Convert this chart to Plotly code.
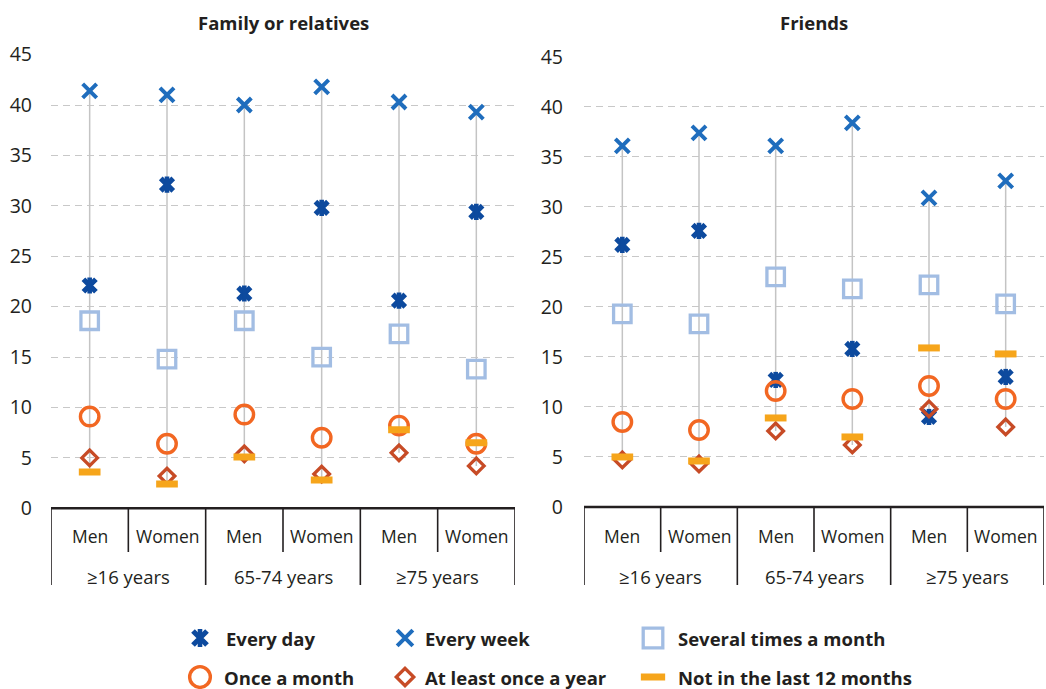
import plotly.graph_objects as go

# ---- data -------------------------------------------------------------
sexes = ["Men", "Women", "Men", "Women", "Men", "Women"]
age_groups = ["≥16 years", "65-74 years", "≥75 years"]
series_names = ["Every day", "Every week", "Several times a month",
                "Once a month", "At least once a year", "Not in the last 12 months"]

family_every_day = [22.1, 32.1, 21.3, 29.8, 20.6, 29.4]
family_every_week = [41.4, 41.0, 40.0, 41.8, 40.3, 39.3]
family_several = [18.6, 14.8, 18.6, 15.0, 17.3, 13.8]
family_once_month = [9.1, 6.4, 9.3, 7.0, 8.2, 6.4]
family_once_year = [5.0, 3.2, 5.4, 3.4, 5.5, 4.2]
family_not_12m = [3.6, 2.4, 5.1, 2.8, 7.8, 6.5]

friends_every_day = [26.2, 27.6, 12.7, 15.8, 9.0, 13.0]
friends_every_week = [36.1, 37.4, 36.1, 38.4, 30.9, 32.6]
friends_several = [19.3, 18.3, 23.0, 21.8, 22.2, 20.3]
friends_once_month = [8.5, 7.7, 11.6, 10.8, 12.1, 10.8]
friends_once_year = [4.7, 4.3, 7.6, 6.2, 9.8, 8.0]
friends_not_12m = [5.0, 4.6, 8.9, 7.0, 15.9, 15.3]

y_ticks = [0, 5, 10, 15, 20, 25, 30, 35, 40, 45]

# ---- styling -----------------------------------------------------------
W, H = 1046, 689
FONT = "Open Sans"
TXT = "#231f20"
C_DAY = "#0d4a9e"
C_WEEK = "#1f6dbd"
C_SEV = "#a2bde3"
C_MONTH = "#f26722"
C_YEAR = "#c74b26"
C_NOT = "#f6a51b"


def py(px):
    """pixel row -> paper y"""
    return 1 - px / H


def px_x(px):
    return px / W


panels = [
    dict(title="Family or relatives",
         data=[family_every_day, family_every_week, family_several,
               family_once_month, family_once_year, family_not_12m],
         xdom=(51, 515), ydom=(508.3, 54.6), xa="x", ya="y"),
    dict(title="Friends",
         data=[friends_every_day, friends_every_week, friends_several,
               friends_once_month, friends_once_year, friends_not_12m],
         xdom=(584, 1044), ydom=(507, 56.8), xa="x2", ya="y2"),
]

fig = go.Figure()
xs = list(range(len(sexes)))


def mk(symbol, size, color, width):
    return dict(symbol=symbol, size=size, color=color,
                line=dict(color=color, width=width))


def marker_traces(x, y, xa, ya, scale=1.0):
    s = scale
    specs = [
        (0, mk("x-thin-open", 12.5 * s, C_DAY, 5.2)),
        (0, mk("line-ns-open", 11.5 * s, C_DAY, 4.6)),
        (1, mk("x-thin-open", 14 * s, C_WEEK, 4.0)),
        (2, mk("square-open", 17.5 * s, C_SEV, 3.3)),
        (3, mk("circle-open", 18.5 * s, C_MONTH, 3.4)),
        (4, mk("diamond-open", 12 * s, C_YEAR, 3.3)),
        (5, mk("line-ew-open", 15.5 * s, C_NOT, 7)),
    ]
    return [(k, go.Scatter(x=x, y=y[k], xaxis=xa, yaxis=ya, mode="markers",
                           marker=m, showlegend=False, hoverinfo="skip"))
            for k, m in specs]


def label(text, x, y, xref, yref, size, xanchor="center"):
    fig.add_annotation(text=text, x=x, y=y, xref=xref, yref=yref,
                       xanchor=xanchor, yanchor="middle", showarrow=False,
                       font=dict(family=FONT, size=size, color=TXT))


for i, p in enumerate(panels):
    # high-low connector from the lowest to the highest value per column
    lx, ly = [], []
    for k in xs:
        vals = [s[k] for s in p["data"]]
        lx += [k, k, None]
        ly += [min(vals), max(vals), None]
    fig.add_trace(go.Scatter(x=lx, y=ly, xaxis=p["xa"], yaxis=p["ya"],
                             mode="lines", line=dict(color="#c4c4c4", width=1.5),
                             showlegend=False, hoverinfo="skip"))
    for _, t in marker_traces(xs, p["data"], p["xa"], p["ya"]):
        fig.add_trace(t)

    sfx = "" if i == 0 else "2"
    fig.layout["xaxis" + sfx] = dict(
        domain=[px_x(p["xdom"][0]), px_x(p["xdom"][1])],
        range=[-0.5, len(sexes) - 0.5], showgrid=False, zeroline=False,
        showticklabels=False, ticks="", showline=False, fixedrange=True,
        automargin=False, anchor="y" + sfx)
    fig.layout["yaxis" + sfx] = dict(
        domain=[py(p["ydom"][0]), py(p["ydom"][1])], range=[0, 45],
        tickvals=y_ticks, showgrid=True, gridcolor="#c8c8c8", griddash="7px,5px",
        gridwidth=1.2, zeroline=False, showline=False, ticks="",
        ticklabelstandoff=18 if i == 0 else 20, automargin=False,
        tickfont=dict(family=FONT, size=19.5, color=TXT), fixedrange=True,
        anchor="x" + sfx)

    # panel title
    xmid = (p["xdom"][0] + p["xdom"][1]) / 2
    label("<b>%s</b>" % p["title"], px_x(xmid), py(22), "paper", "paper", 18.5)

    # category axis: baseline, dividers and two label rows
    xr = "x" + sfx
    fig.add_shape(type="line", xref=xr, yref="paper", x0=-0.5, x1=len(sexes) - 0.5,
                  y0=py(p["ydom"][0]), y1=py(p["ydom"][0]),
                  line=dict(color=TXT, width=2.6))
    for b in range(len(sexes) + 1):
        bottom = 585 if b % 2 == 0 else 552
        fig.add_shape(type="line", xref=xr, yref="paper", x0=b - 0.5, x1=b - 0.5,
                      y0=py(p["ydom"][0]), y1=py(bottom),
                      line=dict(color=TXT, width=1.6))
    for k, s in enumerate(sexes):
        label(s, k, py(536), xr, "paper", 17.5)
    for g, name in enumerate(age_groups):
        label(name, 2 * g + 0.5, py(576), xr, "paper", 18.5)

# ---- legend (own small pixel-scaled axes) ------------------------------
leg_x = [200, 405, 653, 200, 405, 653]
leg_y = [638, 638, 638, 677, 677, 677]
leg_text_x = [224, 423, 676, 222, 423, 676]
for k, t in marker_traces([0], [[0]] * 6, "x3", "y3", scale=1.12):
    t.x = [leg_x[k]]
    t.y = [leg_y[k]]
    fig.add_trace(t)
for s, name in enumerate(series_names):
    label("<b>%s</b>" % name, leg_text_x[s], leg_y[s], "x3", "y3", 18.5,
          xanchor="left")
fig.layout["xaxis3"] = dict(domain=[0, 1], range=[0, W], visible=False,
                            fixedrange=True, automargin=False, anchor="y3")
fig.layout["yaxis3"] = dict(domain=[0, py(610)], range=[H, 610], visible=False,
                            fixedrange=True, anchor="x3", automargin=False)

fig.update_layout(template="none", width=W, height=H,
                  margin=dict(l=0, r=0, t=0, b=0, pad=0, autoexpand=False),
                  paper_bgcolor="white", plot_bgcolor="white", showlegend=False,
                  font=dict(family=FONT, color=TXT))

fig.write_html("out.html", config={"displayModeBar": False})
